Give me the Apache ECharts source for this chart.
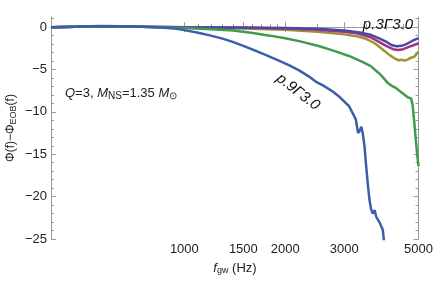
<!DOCTYPE html>
<html><head><meta charset="utf-8">
<script src="https://cdn.jsdelivr.net/npm/echarts@6/dist/echarts.min.js"></script>
<style>html,body{margin:0;padding:0;background:#fff}#c{width:436px;height:282px}</style>
</head><body><div id="c"></div>
<script>
// ---- data (frequency in Hz, phase difference in rad) ----
const blueFreq  = [400,470,560,650,750,850,950,1000,1100,1200,1300,1394,1500,1600,1755,1900,2058,2200,2350,2473,2600,2773,2900,3040,3100,3185,3250,3300,3340,3375,3410,3450,3490,3530,3570,3610,3650,3700,3740,3780,3820,3870,3910,3950];
const bluePhase = [0,0.05,0.15,0.1,0.05,-0.05,-0.2,-0.35,-0.65,-1.0,-1.35,-1.73,-2.2,-2.65,-3.3,-3.9,-4.5,-5.1,-5.8,-6.45,-6.9,-7.6,-8.2,-9.0,-9.3,-10.2,-10.9,-12.5,-12.2,-11.75,-12.6,-14.1,-16.5,-18.6,-20.4,-21.5,-22.0,-21.6,-22.4,-22.3,-23.0,-23.2,-23.9,-25.5];

const greenFreq  = [400,560,750,1000,1200,1400,1600,1800,2000,2200,2500,2800,3100,3400,3600,3750,3850,3950,4050,4100,4150,4200,4250,4300,4350,4400,4450,4500,4550,4600,4650,4700,4750,4800,4850,4900,4950,5000];
const greenPhase = [0,0.12,0.05,-0.1,-0.25,-0.4,-0.7,-1.0,-1.3,-1.65,-2.2,-2.8,-3.4,-4.1,-4.6,-5.2,-5.6,-6.1,-6.6,-6.4,-6.9,-6.8,-7.1,-7.0,-7.4,-7.3,-7.7,-7.6,-8.0,-7.9,-8.3,-8.2,-8.4,-9.2,-11.0,-13.0,-14.9,-16.4];

const purpleFreq  = [400,560,750,1000,1500,2000,2500,3000,3300,3600,3800,4000,4150,4300,4450,4600,4800,5000];
const purplePhase = [0,0.12,0.05,0,-0.05,-0.1,-0.2,-0.4,-0.6,-0.9,-1.3,-1.7,-2.1,-2.25,-2.2,-2.0,-1.6,-1.3];

const magentaFreq  = [400,560,750,1000,1500,2000,2500,3000,3300,3600,3800,4000,4200,4350,4500,4700,4850,5000];
const magentaPhase = [0,0.12,0.05,0,-0.08,-0.15,-0.3,-0.55,-0.75,-1.2,-1.7,-2.2,-2.6,-2.7,-2.6,-2.3,-2.1,-1.9];

const goldFreq  = [400,560,750,1000,1500,2000,2500,3000,3300,3500,3700,3900,4100,4250,4350,4450,4550,4650,4750,4850,4950,5000];
const goldPhase = [0,0.12,0.05,-0.05,-0.15,-0.3,-0.55,-0.85,-1.1,-1.4,-1.9,-2.6,-3.3,-3.7,-3.9,-3.85,-3.95,-3.8,-3.6,-3.5,-3.1,-2.9];

const xMajorTicks = [1000,1500,2000,3000,5000];
const xMinorTicks = [1100,1200,1300,1400,1600,1700,1800,1900,2500,3500,4000,4500];
const yMajorTicks = [-25,-20,-15,-10,-5,0];
const yMinorTicks = [-24,-23,-22,-21,-19,-18,-17,-16,-14,-13,-12,-11,-9,-8,-7,-6,-4,-3,-2,-1,1];

const seriesLabels = ['p.3Γ3.0','p.9Γ3.0'];

// ---- chart ----
const L = Math.log10;
const pairs = (fs, ps) => fs.map((f, i) => [L(f), ps[i]]);
const FONT = '"Liberation Sans", Arial, sans-serif';
const axisCol = '#9a9a9a';
const xmin = L(400), xmax = L(5000), ymin = -25, ymax = 1.2;

function xAx(pos, ticks, len, labels, line) {
  return {
    type: 'value', position: pos, min: xmin, max: xmax,
    splitLine: {show: false},
    axisLine: {show: line, lineStyle: {color: axisCol, width: 1}},
    axisTick: {show: true, inside: true, length: len, customValues: ticks.map(L), lineStyle: {color: axisCol}},
    axisLabel: {show: labels, customValues: ticks.map(L), color: '#222', fontFamily: FONT, fontSize: 13, margin: 4,
      formatter: v => String(Math.round(Math.pow(10, v)))}
  };
}
function yAx(pos, ticks, len, labels, line) {
  return {
    type: 'value', position: pos, min: ymin, max: ymax,
    splitLine: {show: false},
    axisLine: {show: line, onZero: false, lineStyle: {color: axisCol, width: 1}},
    axisTick: {show: true, inside: true, length: len, customValues: ticks, lineStyle: {color: axisCol}},
    axisLabel: {show: labels, customValues: ticks, color: '#222', fontFamily: FONT, fontSize: 13, margin: 4,
      formatter: v => (v < 0 ? '\u2212' + Math.abs(v) : String(v))}
  };
}

const chart = echarts.init(document.getElementById('c'), null, {renderer: 'canvas'});
const mk = (name, d, color) => ({
  name, type: 'line', data: d, showSymbol: false, symbol: 'none', smooth: false,
  lineStyle: {color, width: 2.5}, z: 3, animation: false
});

chart.setOption({
  animation: false,
  grid: {left: 51, right: 17, top: 17, bottom: 43},
  xAxis: [
    xAx('bottom', xMajorTicks, 5, true, true),
    xAx('bottom', xMinorTicks, 3, false, false),
    xAx('top', xMajorTicks, 5, false, true),
    xAx('top', xMinorTicks, 3, false, false)
  ],
  yAxis: [
    yAx('left', yMajorTicks, 5, true, true),
    yAx('left', yMinorTicks, 3, false, false),
    yAx('right', yMajorTicks, 5, false, true),
    yAx('right', yMinorTicks, 3, false, false)
  ],
  series: [
    mk('gold', pairs(goldFreq, goldPhase), '#a38f35'),
    mk('magenta', pairs(magentaFreq, magentaPhase), '#a3347c'),
    mk('purple', pairs(purpleFreq, purplePhase), '#4a48a6'),
    mk('green', pairs(greenFreq, greenPhase), '#3f9c4c'),
    mk('blue', pairs(blueFreq, bluePhase), '#3c5da8')
  ],
  graphic: [
    {type: 'text', x: 11, y: 128, rotation: Math.PI / 2,
      style: {text: 'Φ(f)−Φ{s|EOB}(f)', fill: '#222', font: '12px ' + FONT, align: 'center', verticalAlign: 'middle',
        rich: {s: {fontSize: 9, fontFamily: FONT, fill: '#222', padding: [5, 0, 0, 0]}}}},
    {type: 'text', x: 65, y: 93,
      style: {text: '{i|Q}=3, {i|M}{s|NS}=1.35 {i|M}{s|⊙}', fill: '#222', font: '13px ' + FONT, verticalAlign: 'middle',
        rich: {i: {fontStyle: 'italic', fontSize: 13, fontFamily: FONT, fill: '#222'},
               s: {fontSize: 10, fontFamily: FONT, fill: '#222', padding: [6, 0, 0, 0]}}}},
    {type: 'text', x: 235, y: 268,
      style: {text: '{i|f}{s|gw} (Hz)', fill: '#222', font: '13px ' + FONT, align: 'center', verticalAlign: 'middle',
        rich: {i: {fontStyle: 'italic', fontSize: 13, fontFamily: FONT, fill: '#222'},
               s: {fontSize: 9, fontFamily: FONT, fill: '#222', padding: [6, 0, 0, 0]}}}},
    {type: 'text', x: 388, y: 25, z: 10,
      style: {text: seriesLabels[0], fill: '#111', font: 'italic 15px ' + FONT, align: 'center', verticalAlign: 'middle'}},
    {type: 'text', x: 298, y: 92, rotation: -0.66, z: 10,
      style: {text: seriesLabels[1], fill: '#111', font: 'italic 15px ' + FONT, align: 'center', verticalAlign: 'middle'}}
  ]
});
</script></body></html>
